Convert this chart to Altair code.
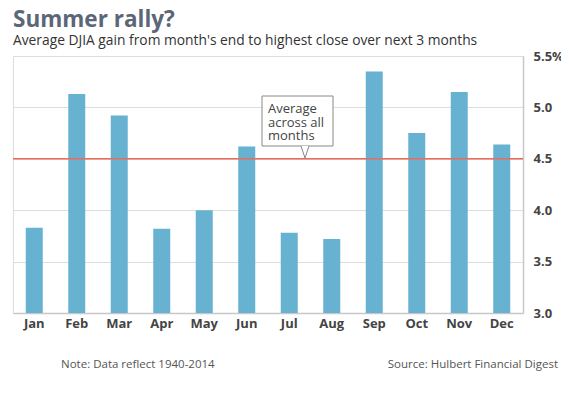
import altair as alt
import pandas as pd

months = ["Jan", "Feb", "Mar", "Apr", "May", "Jun", "Jul", "Aug", "Sep", "Oct", "Nov", "Dec"]
gains = [3.83, 5.13, 4.92, 3.82, 4.00, 4.62, 3.78, 3.72, 5.35, 4.75, 5.15, 4.64]
average = 4.5
y_ticks = [3.0, 3.5, 4.0, 4.5, 5.0, 5.5]
annot_text = "Average\nacross all\nmonths"

FONT = "Open Sans"
W, H = 510, 257

df = pd.DataFrame({"month": months, "gain": gains})
avg_df = pd.DataFrame({"avg": [average]})

yscale = alt.Scale(domain=[3.0, 5.5], nice=False, zero=False)

bars = alt.Chart(df).mark_bar(color="#67b2d1", clip=True).encode(
    x=alt.X("month:N", sort=months, title=None,
            scale=alt.Scale(paddingInner=0.6, paddingOuter=0.3),
            axis=alt.Axis(labelAngle=0, ticks=False, labelFontWeight="bold",
                          labelFontSize=13, labelColor="#444", labelPadding=4,
                          domainColor="#c8c8cc", domainWidth=1.5, labelFont=FONT)),
    y=alt.Y("gain:Q", scale=yscale, title=None,
            axis=alt.Axis(orient="right", values=y_ticks, ticks=False,
                          labelExpr="datum.value == 5.5 ? '5.5%' : format(datum.value, '.1f')",
                          labelFontWeight="bold", labelFontSize=13, labelColor="#444",
                          labelPadding=10, domainColor="#c8c8cc", domainWidth=1.5,
                          gridColor="#dddddd", labelFont=FONT)),
    y2=alt.datum(3.0),
)

avg_line = alt.Chart(avg_df).mark_rule(color="#ee6a5a", strokeWidth=1.5).encode(
    y=alt.Y("avg:Q")
)

box = alt.Chart(avg_df).mark_rect(fill="white", stroke="#888", strokeWidth=1).encode(
    x=alt.value(249), x2=alt.value(320), y=alt.value(40), y2=alt.value(90)
)

tail = alt.Chart(avg_df).mark_point(
    shape="M-0.67,-1L0,1L0.67,-1", fill="white", filled=True, stroke="#888",
    strokeWidth=1, size=144, opacity=1
).encode(x=alt.value(292), y=alt.value(96))

annot = alt.Chart(avg_df).mark_text(
    align="left", baseline="top", font=FONT, fontSize=13, color="#444",
    lineBreak="\n", lineHeight=13.5, text=annot_text
).encode(x=alt.value(255), y=alt.value(47))

note = alt.Chart(avg_df).mark_text(
    align="left", baseline="middle", font=FONT, fontSize=11.5, color="#555",
    text="Note: Data reflect 1940-2014"
).encode(x=alt.value(48), y=alt.value(309))

source = alt.Chart(avg_df).mark_text(
    align="right", baseline="middle", font=FONT, fontSize=11.5, color="#555",
    text="Source: Hulbert Financial Digest"
).encode(x=alt.value(545), y=alt.value(309))

chart = alt.layer(bars, avg_line, box, tail, annot, note, source).properties(
    width=W, height=H,
    autosize=alt.AutoSizeParams(type="none"),
    padding={"left": 5, "top": 48, "right": 38, "bottom": 77},
    title=alt.TitleParams(
        "Summer rally?",
        subtitle="Average DJIA gain from month's end to highest close over next 3 months",
        anchor="start", frame="group", font=FONT, fontSize=22.5, fontWeight="bold", color="#5b6677",
        subtitleFont=FONT, subtitleFontSize=13.8, subtitleColor="#333",
        subtitlePadding=3, offset=2,
    ),
).configure_view(stroke="#c8c8cc", strokeWidth=1.5).configure(background="white")

chart.save("out.html", embed_options={"renderer": "svg", "actions": False})
